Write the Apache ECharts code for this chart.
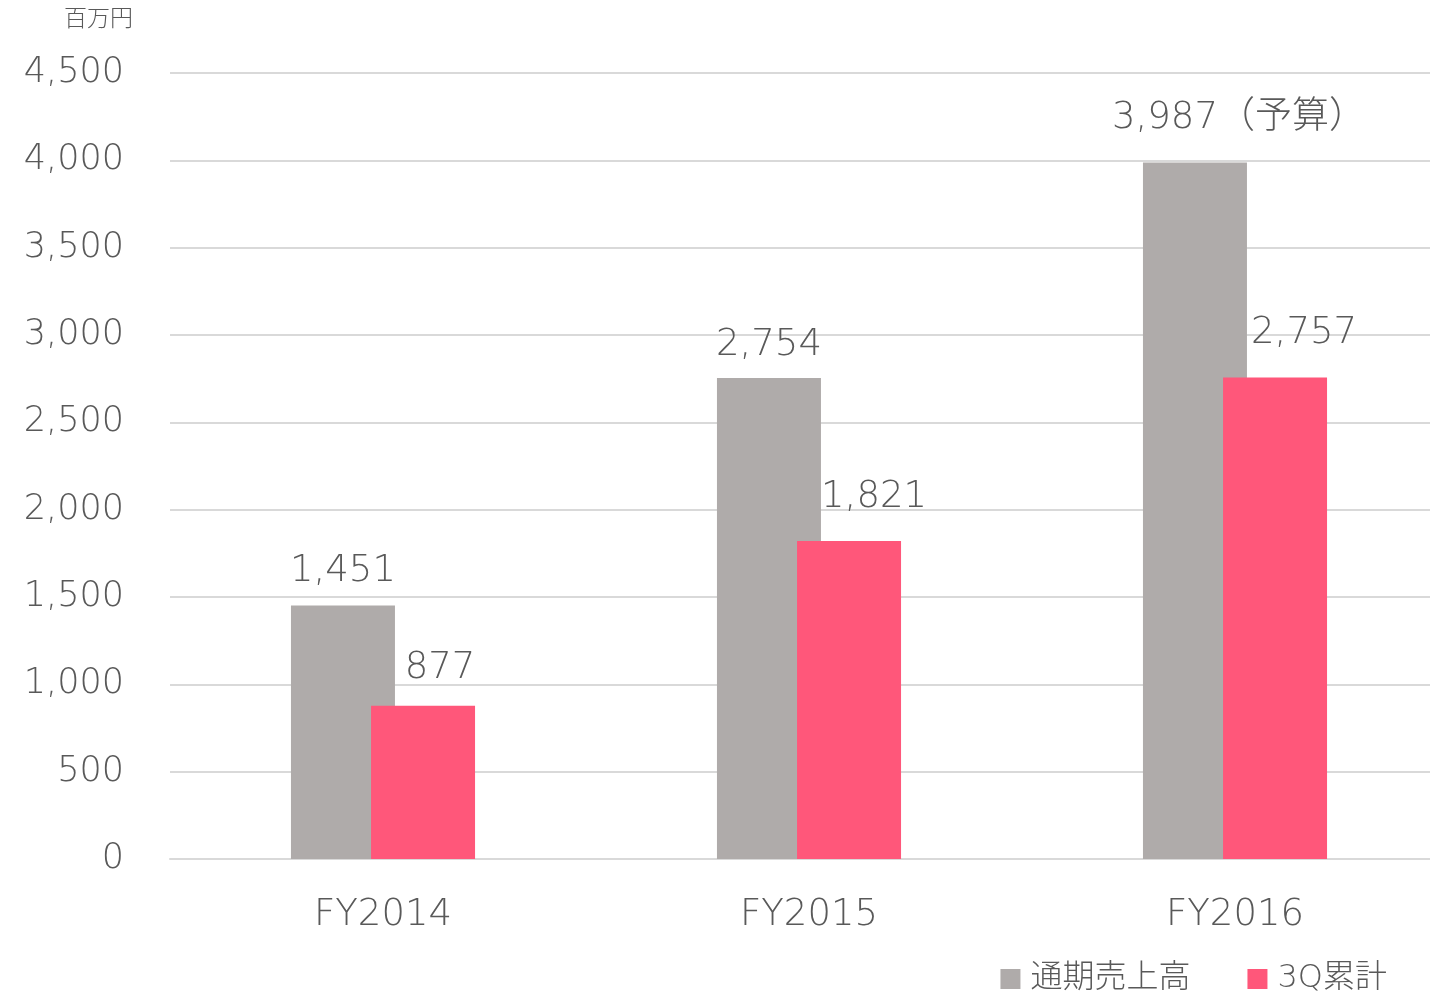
<!DOCTYPE html>
<html>
<head>
    <meta charset="UTF-8">
    <title>売上高</title>
    <script src="https://cdn.jsdelivr.net/npm/echarts@6/dist/echarts.min.js"></script>
    <style>
        html, body { margin: 0; padding: 0; background: #fff; }
    </style>
</head>
<body>
<div id="main" style="width: 1430px;height:994px;"></div>

<script type="text/javascript">
    // データ
    var categories = ['FY2014', 'FY2015', 'FY2016'];
    var fullYear = [1451, 2754, 3987];
    var q3Total = [877, 1821, 2757];
    var seriesNames = ['通期売上高', '3Q累計'];
    var unitLabel = '百万円';

    var FONT = '"DejaVu Sans", "Noto Sans CJK JP", sans-serif';
    var TEXT = '#595959';

    var chart = echarts.init(document.getElementById('main'));

    // ラベル位置の微調整
    var grayOffsets = [[0, 0], [0, 2], [44, -10]];
    var pinkOffsets = [[17, -3], [25, -9], [29, -10]];

    var grayData = fullYear.map(function (v, i) {
        var item = {value: v, label: {offset: grayOffsets[i]}};
        if (i === 2) {
            item.label.formatter = function (p) {
                return p.value.toLocaleString('en-US') + '（予算）';
            };
        }
        return item;
    });
    var pinkData = q3Total.map(function (v, i) {
        return {value: v, label: {offset: pinkOffsets[i]}};
    });

    var labelStyle = {
        show: true,
        position: 'top',
        distance: 16,
        fontFamily: FONT,
        fontWeight: 200,
        fontSize: 37,
        color: TEXT,
        formatter: function (p) {
            return p.value.toLocaleString('en-US');
        }
    };

    var option = {
        animation: false,
        backgroundColor: '#fff',
        title: {
            text: unitLabel,
            left: 59,
            top: 4,
            textStyle: {
                fontFamily: FONT,
                fontWeight: 200,
                fontSize: 23,
                color: TEXT
            }
        },
        legend: {
            data: seriesNames,
            right: 38,
            top: 958,
            icon: 'rect',
            itemWidth: 20,
            itemHeight: 20,
            itemGap: 57,
            textStyle: {
                fontFamily: FONT,
                fontWeight: 200,
                fontSize: 32,
                color: TEXT,
                padding: [0, 0, 0, 5]
            }
        },
        grid: {
            left: 170,
            top: 73,
            width: 1278,
            height: 786,
            outerBoundsMode: 'none'
        },
        xAxis: {
            type: 'category',
            data: categories,
            axisLine: {lineStyle: {color: '#d9d9d9', width: 2}},
            axisTick: {show: false},
            axisLabel: {
                margin: 38,
                fontFamily: FONT,
                fontWeight: 200,
                fontSize: 37,
                color: TEXT
            }
        },
        yAxis: {
            type: 'value',
            min: 0,
            max: 4500,
            interval: 500,
            axisLine: {show: false},
            axisTick: {show: false},
            splitLine: {lineStyle: {color: '#d9d9d9', width: 2}},
            axisLabel: {
                margin: 46,
                fontFamily: FONT,
                fontWeight: 200,
                fontSize: 35,
                color: TEXT,
                verticalAlign: 'middle',
                lineHeight: 35,
                padding: [9, 0, 0, 0],
                formatter: function (v) {
                    return v.toLocaleString('en-US');
                }
            }
        },
        series: [
            {
                name: seriesNames[0],
                type: 'bar',
                barWidth: 104,
                barGap: '-23%',
                itemStyle: {color: '#AFABAA'},
                label: labelStyle,
                data: grayData
            },
            {
                name: seriesNames[1],
                type: 'bar',
                barWidth: 104,
                barGap: '-23%',
                itemStyle: {color: '#FF577A'},
                label: labelStyle,
                data: pinkData
            }
        ]
    };

    chart.setOption(option);
</script>
</body>
</html>
